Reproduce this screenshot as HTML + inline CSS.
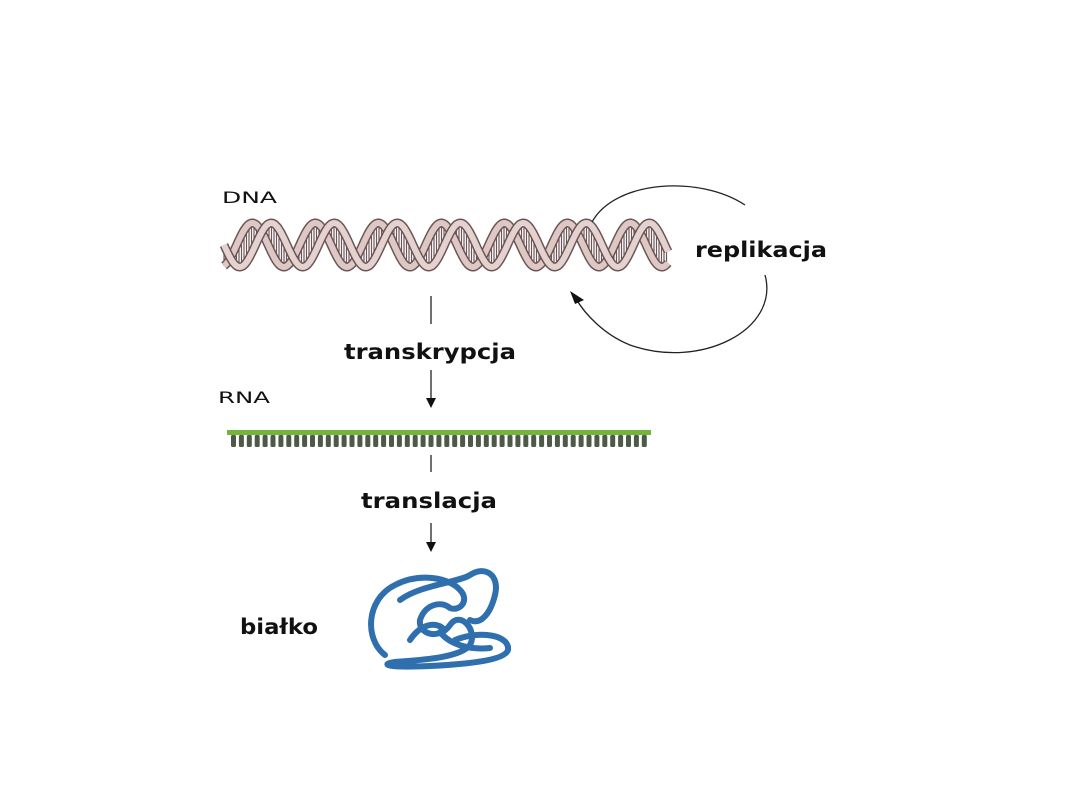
<!DOCTYPE html>
<html><head><meta charset="utf-8"><style>
html,body{margin:0;padding:0;background:#fff;width:1080px;height:810px;overflow:hidden}
svg{position:absolute;left:0;top:0}
text{font-family:"DejaVu Sans","Liberation Sans",sans-serif;font-weight:bold;fill:#111}
</style></head><body>
<svg id="s" width="1080" height="810" viewBox="0 0 1080 810">
<text x="222" y="203" font-size="16" textLength="55" lengthAdjust="spacingAndGlyphs" style="font-weight:normal">DNA</text>
<g id="dna"></g>
<path d="M592,222 C615,180 700,175 745,205" fill="none" stroke="#222" stroke-width="1.3"/>
<path d="M765,275 C780,330 700,370 630,345 C605,335 585,315 575,297" fill="none" stroke="#222" stroke-width="1.3"/>
<path d="M570,291 L584,300 L575,304 Z" fill="#111"/>
<text x="695" y="257" font-size="21" textLength="132" lengthAdjust="spacingAndGlyphs">replikacja</text>
<line x1="431" y1="296" x2="431" y2="324" stroke="#222" stroke-width="1.3"/>
<text x="344" y="359" font-size="21" textLength="172" lengthAdjust="spacingAndGlyphs">transkrypcja</text>
<line x1="431" y1="370" x2="431" y2="404" stroke="#222" stroke-width="1.3"/>
<path d="M426,398 L431,408 L436,398 Z" fill="#111"/>
<text x="218" y="403" font-size="16" textLength="52" lengthAdjust="spacingAndGlyphs" style="font-weight:normal">RNA</text>
<rect x="227" y="430" width="424" height="5" fill="#74b33c"/>
<g id="rna"></g>
<line x1="431" y1="455" x2="431" y2="472" stroke="#222" stroke-width="1.3"/>
<text x="361" y="508" font-size="21" textLength="136" lengthAdjust="spacingAndGlyphs">translacja</text>
<line x1="431" y1="523" x2="431" y2="548" stroke="#222" stroke-width="1.3"/>
<path d="M426,542 L431,552 L436,542 Z" fill="#111"/>
<text x="240" y="634" font-size="21" textLength="78" lengthAdjust="spacingAndGlyphs">białko</text>
<g fill="none" stroke="#2f6fae" stroke-width="6" stroke-linecap="round" stroke-linejoin="round">
<path d="M385,655 C365,640 365,600 395,585 C420,572 450,578 460,590 C470,600 460,612 450,608 C440,600 425,605 420,620 C418,635 440,640 450,625 C460,610 478,630 470,645 C460,658 420,660 395,662 C380,664 385,668 430,666 C470,664 505,660 508,650 C510,635 480,630 455,640"/>
<path d="M400,600 C420,585 460,582 470,575 C485,565 500,575 495,595 C490,615 480,625 470,620"/>
<path d="M440,632 C450,645 470,650 490,648"/>
<path d="M410,640 C420,625 435,620 445,630"/>
</g>
</svg>
<script>
var g=document.getElementById('dna'),x0=224,x1=668,cy=245,A=22,P=63,ph2=Math.PI*0.6;
function pt(x,ph){return cy+A*Math.sin((x-x0)/P*2*Math.PI+ph);}
var h='';
for(var x=x0;x<=x1;x+=2.5){var a=pt(x,0),b=pt(x,ph2);h+='<line x1="'+x+'" y1="'+a+'" x2="'+x+'" y2="'+b+'" stroke="#6e5656" stroke-width="1.2"/>';}
function strand(ph){var d='';for(var x=x0;x<=x1;x+=1){d+=(x==x0?'M':'L')+x+','+pt(x,ph).toFixed(1);}return d;}
h+='<path d="'+strand(ph2)+'" fill="none" stroke="#6e5555" stroke-width="9"/><path d="'+strand(ph2)+'" fill="none" stroke="#ddc8c6" stroke-width="6"/>';
h+='<path d="'+strand(0)+'" fill="none" stroke="#6e5555" stroke-width="9"/><path d="'+strand(0)+'" fill="none" stroke="#e4d2d0" stroke-width="6"/>';
g.innerHTML=h;
var r=document.getElementById('rna'),t='';
for(var x=231;x<645;x+=7.9){t+='<rect x="'+x.toFixed(1)+'" y="435" width="5" height="12" rx="1.5" fill="#4d5a48"/>';}
r.innerHTML=t;
</script>
</body></html>
